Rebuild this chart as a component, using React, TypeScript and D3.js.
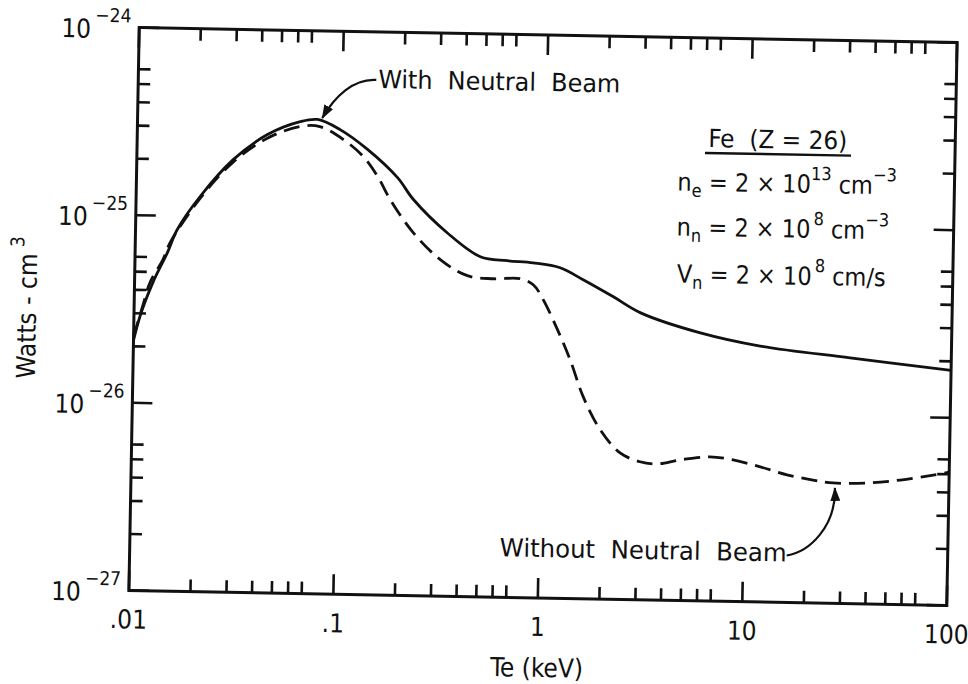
import React from "react";
import * as d3 from "d3";

// ---- data ----
const solidTe = [0.01, 0.0107, 0.0123, 0.0144, 0.016, 0.0206, 0.0296, 0.0433, 0.0625, 0.076, 0.098, 0.134, 0.189, 0.227, 0.334, 0.488, 0.661, 0.885, 1.2, 1.56, 2.2, 3.0, 5.9, 11.6, 32, 100];
const solidW = [2.15e-26, 2.89e-26, 4.4e-26, 6.38e-26, 8.47e-26, 1.28e-25, 2.02e-25, 2.77e-25, 3.27e-25, 3.37e-25, 2.99e-25, 2.36e-25, 1.68e-25, 1.29e-25, 8.65e-26, 6.49e-26, 6.22e-26, 6.09e-26, 5.77e-26, 5.01e-26, 4.09e-26, 3.38e-26, 2.68e-26, 2.31e-26, 2.04e-26, 1.79e-26];

const dashTe = [0.01, 0.011, 0.0119, 0.0137, 0.0148, 0.0206, 0.0296, 0.0433, 0.0625, 0.078, 0.102, 0.129, 0.152, 0.175, 0.228, 0.311, 0.423, 0.567, 0.768, 0.89, 1.0, 1.18, 1.37, 1.6, 1.95, 2.45, 3.07, 3.73, 4.83, 6.75, 8.76, 11.9, 16.1, 21.6, 27.1, 39.8, 57.7, 83.6, 100];
const dashW = [2.25e-26, 3.27e-26, 4.39e-26, 5.83e-26, 7.19e-26, 1.25e-25, 1.96e-25, 2.65e-25, 3.08e-25, 3.09e-25, 2.65e-25, 2.14e-25, 1.68e-25, 1.28e-25, 8.59e-26, 6.21e-26, 5.13e-26, 4.97e-26, 5.0e-26, 4.66e-26, 3.88e-26, 2.7e-26, 1.87e-26, 1.19e-26, 7.98e-27, 6.04e-27, 5.44e-27, 5.32e-27, 5.62e-27, 5.87e-27, 5.68e-27, 5.25e-27, 4.79e-27, 4.52e-27, 4.38e-27, 4.41e-27, 4.61e-27, 4.93e-27, 5.13e-27];

const xDecades = [0.01, 0.1, 1, 10, 100];
const xTickLabels = [".01", ".1", "1", "10", "100"];
const xMinorMult = [2, 3, 4, 5, 6, 7];
const yDecades = [1e-27, 1e-26, 1e-25, 1e-24];
const yTickExp = ["\u221227", "\u221226", "\u221225", "\u221224"];
const yMinorMult = [2, 3, 4, 5, 6];

const withArrowTarget = [0.08, 3.35e-25];
const withoutArrowTarget = [27.7, 4.38e-27];

// ---- layout ----
const left = 134;
const top = 35;
const W = 818;
const H = 563;
const ROT = 1.05;
const FONT = "'Liberation Sans Narrow', 'DejaVu Sans Condensed', 'Liberation Sans', sans-serif";

export default function App() {
  const x = d3.scaleLog().domain([0.01, 100]).range([0, W]);
  const y = d3.scaleLog().domain([1e-27, 1e-24]).range([H, 0]);

  const mk = (te: number[], w: number[]) =>
    d3
      .line<[number, number]>()
      .x((d) => x(d[0]))
      .y((d) => y(d[1]))
      .curve(d3.curveCatmullRom.alpha(0.5))(te.map((t, i) => [t, w[i]] as [number, number])) || "";

  const solidPath = mk(solidTe, solidW);
  const dashPath = mk(dashTe, dashW);

  const xMinor: number[] = [];
  xDecades.slice(0, -1).forEach((d) => xMinorMult.forEach((m) => xMinor.push(d * m)));
  const yMinor: number[] = [];
  yDecades.slice(0, -1).forEach((d) => yMinorMult.forEach((m) => yMinor.push(d * m)));

  const MAJ = 20;
  const MIN = 12;

  const t1x = x(withArrowTarget[0]);
  const t1y = y(withArrowTarget[1]) - 2;
  const t2x = x(withoutArrowTarget[0]);
  const t2y = y(withoutArrowTarget[1]) + 5;

  const tickStroke = { stroke: "#111", strokeWidth: 2.6 };

  return (
    <svg width={968} height={684} style={{ position: "absolute", left: 0, top: 0, background: "#fff" }}>
      <defs>
        <marker id="ah" viewBox="0 0 14 10" refX="13" refY="5" markerWidth="14" markerHeight="10" markerUnits="userSpaceOnUse" orient="auto">
          <path d="M0,0 L14,5 L0,10 Z" fill="#111" />
        </marker>
      </defs>
      <rect x={0} y={0} width={968} height={684} fill="#fff" />
      <g transform={`rotate(${ROT} ${left + W / 2} ${top + H / 2}) translate(${left},${top})`} fontFamily={FONT} fill="#111">
        {/* frame */}
        <rect x={0} y={0} width={W} height={H} fill="none" stroke="#111" strokeWidth={3} />
        {/* x ticks (bottom & top) */}
        {xDecades.map((v, i) => (
          <g key={"xm" + i}>
            <line x1={x(v)} x2={x(v)} y1={H} y2={H - MAJ} {...tickStroke} />
            <line x1={x(v)} x2={x(v)} y1={0} y2={MAJ} {...tickStroke} />
          </g>
        ))}
        {xMinor.map((v, i) => (
          <g key={"xn" + i}>
            <line x1={x(v)} x2={x(v)} y1={H} y2={H - MIN} {...tickStroke} />
            <line x1={x(v)} x2={x(v)} y1={0} y2={MIN} {...tickStroke} />
          </g>
        ))}
        {/* y ticks (left & right) */}
        {yDecades.map((v, i) => (
          <g key={"ym" + i}>
            <line x1={0} x2={MAJ} y1={y(v)} y2={y(v)} {...tickStroke} />
            <line x1={W} x2={W - MAJ} y1={y(v)} y2={y(v)} {...tickStroke} />
          </g>
        ))}
        {yMinor.map((v, i) => (
          <g key={"yn" + i}>
            <line x1={0} x2={MIN} y1={y(v)} y2={y(v)} {...tickStroke} />
            <line x1={W} x2={W - MIN} y1={y(v)} y2={y(v)} {...tickStroke} />
          </g>
        ))}
        {/* tick labels */}
        {xDecades.map((v, i) => (
          <text key={"xl" + i} x={x(v)} y={H + 38} textAnchor="middle" fontSize={26}>
            {xTickLabels[i]}
          </text>
        ))}
        {yDecades.map((v, i) => (
          <text key={"yl" + i} x={-8} y={y(v) + 11} textAnchor="end" fontSize={26}>
            10
            <tspan dy={-16} dx={4} fontSize={19}>
              {yTickExp[i]}
            </tspan>
          </text>
        ))}
        {/* axis titles */}
        <text x={x(1)} y={H + 79} textAnchor="middle" fontSize={26}>
          Te (keV)
        </text>
        <text transform={`translate(${-98},${282}) rotate(-90)`} textAnchor="middle" fontSize={26}>
          Watts - cm
          <tspan dy={-13} dx={6} fontSize={19}>
            3
          </tspan>
        </text>
        {/* curves */}
        <path d={solidPath} fill="none" stroke="#111" strokeWidth={2.8} />
        <path d={dashPath} fill="none" stroke="#111" strokeWidth={2.8} strokeDasharray="16 8" />
        {/* annotations */}
        <text x={240} y={56} fontSize={25} textLength={242} lengthAdjust="spacingAndGlyphs" style={{ whiteSpace: "pre" }}>
          {"With  Neutral  Beam"}
        </text>
        <path d={`M238,48 C215,47 ${t1x + 12},${t1y - 22} ${t1x},${t1y}`} fill="none" stroke="#111" strokeWidth={2.2} markerEnd="url(#ah)" />
        <text x={370} y={522} fontSize={25} textLength={287} lengthAdjust="spacingAndGlyphs" style={{ whiteSpace: "pre" }}>
          {"Without  Neutral  Beam"}
        </text>
        <path d={`M657,516 C680,512 ${t2x + 2},${t2y + 38} ${t2x},${t2y}`} fill="none" stroke="#111" strokeWidth={2.2} markerEnd="url(#ah)" />
        {/* parameter block */}
        <text x={571} y={109} fontSize={25} textLength={139} lengthAdjust="spacingAndGlyphs" style={{ whiteSpace: "pre" }}>
          {"Fe  (Z = 26)"}
        </text>
        <line x1={568} x2={714} y1={115} y2={115} stroke="#111" strokeWidth={2.4} />
        <text x={541} y={153} fontSize={25}>
          n
          <tspan dy={6} fontSize={18}>e</tspan>
          <tspan dy={-6}>{" = 2 \u00d7 10"}</tspan>
          <tspan dy={-13} fontSize={18}>13</tspan>
          <tspan dy={13}>{" cm"}</tspan>
          <tspan dy={-13} fontSize={18}>{"\u22123"}</tspan>
        </text>
        <text x={541} y={198} fontSize={25}>
          n
          <tspan dy={6} fontSize={18}>n</tspan>
          <tspan dy={-6}>{" = 2 \u00d7 10"}</tspan>
          <tspan dy={-13} dx={3} fontSize={18}>8</tspan>
          <tspan dy={13}>{"  cm"}</tspan>
          <tspan dy={-13} fontSize={18}>{"\u22123"}</tspan>
        </text>
        <text x={542} y={245} fontSize={25}>
          V
          <tspan dy={6} fontSize={18}>n</tspan>
          <tspan dy={-6}>{" = 2 \u00d7 10"}</tspan>
          <tspan dy={-13} dx={3} fontSize={18}>8</tspan>
          <tspan dy={13}>{"  cm/s"}</tspan>
        </text>
      </g>
    </svg>
  );
}
